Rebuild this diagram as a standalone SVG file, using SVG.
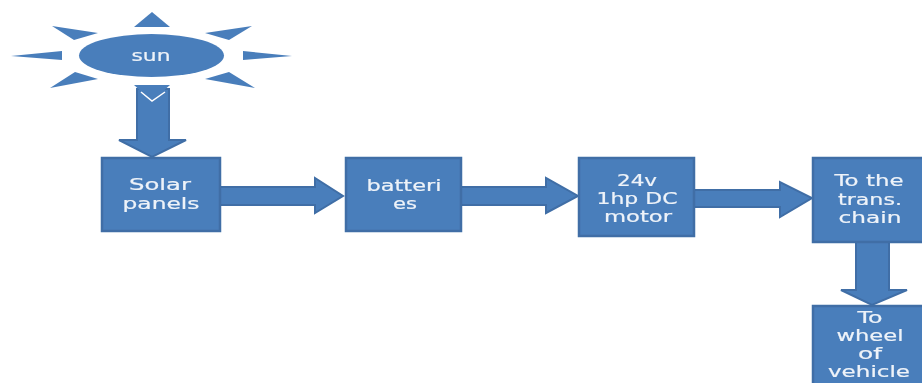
<svg xmlns="http://www.w3.org/2000/svg" width="922" height="383" viewBox="0 0 922 383">
<style>
.b{fill:#4a7ebb;stroke:#3f6ea6;stroke-width:2.5}
.a{fill:#4a7ebb;stroke:#3f6ea6;stroke-width:2}
.r{fill:#4a7ebb}
text{font-family:"DejaVu Sans","Liberation Sans",sans-serif;font-size:15.300px;fill:#eef3f9;stroke:#eef3f9;stroke-width:.2;text-anchor:middle}
</style>
<defs><filter id="s" x="-2%" y="-2%" width="104%" height="104%"><feGaussianBlur stdDeviation="0.6"/></filter></defs>
<rect width="922" height="383" fill="#fff"/>
<g filter="url(#s)">
<g id="connectors">
<path class="a" d="M137 89H169V140H186L152 157L119 140H137Z"/>
<path class="a" d="M220 187H315V178L343 196L315 213V205H220Z"/>
<path class="a" d="M461 187H546V178L578 196L546 213V205H461Z"/>
<path class="a" d="M694 190H780V182L812 198L780 217V207H694Z"/>
<path class="a" d="M856 242H889V290H907L872 305L841 290H856Z"/>
</g>
<g id="sun">
<ellipse class="r" cx="151.500" cy="55.500" rx="72.500" ry="21.500"/>
<path class="r" d="M134 27L152 12L170 27Z"/>
<path class="r" d="M11 56L62 51V60Z"/>
<path class="r" d="M292 56L243 51V60Z"/>
<path class="r" d="M52 26L98 33L74 40Z"/>
<path class="r" d="M252 26L205 33L229 40Z"/>
<path class="r" d="M50 88L75 72L98 79Z"/>
<path class="r" d="M255 88L229 72L205 79Z"/>
<path class="r" d="M134 85H170L152 101Z"/>
<path fill="none" stroke="#fff" stroke-width="1.500" d="M141 92L152 101L165 92"/>
<text x="151" y="61" textLength="39" lengthAdjust="spacingAndGlyphs">sun</text>
</g>
<g id="solar"><rect class="b" x="102" y="158" width="118" height="73"/>
<text x="160" y="190" textLength="62" lengthAdjust="spacingAndGlyphs">Solar</text><text x="161" y="208.500" textLength="77" lengthAdjust="spacingAndGlyphs">panels</text></g>
<g id="batteries"><rect class="b" x="346" y="158" width="115" height="73"/>
<text x="404" y="191" textLength="75" lengthAdjust="spacingAndGlyphs">batteri</text><text x="405" y="209" textLength="24" lengthAdjust="spacingAndGlyphs">es</text></g>
<g id="motor"><rect class="b" x="579" y="158" width="115" height="78"/>
<text x="637" y="186" textLength="40" lengthAdjust="spacingAndGlyphs">24v</text><text x="637" y="204" textLength="81" lengthAdjust="spacingAndGlyphs">1hp DC</text><text x="638" y="222" textLength="68" lengthAdjust="spacingAndGlyphs">motor</text></g>
<g id="chain"><rect class="b" x="813" y="158" width="111" height="84"/>
<text x="869" y="186" textLength="69" lengthAdjust="spacingAndGlyphs">To the</text><text x="870" y="204.500" textLength="64" lengthAdjust="spacingAndGlyphs">trans.</text><text x="870" y="223" textLength="63" lengthAdjust="spacingAndGlyphs">chain</text></g>
<g id="wheel"><rect class="b" x="813" y="306" width="111" height="79"/>
<text x="870" y="323" textLength="25" lengthAdjust="spacingAndGlyphs">To</text><text x="870" y="341" textLength="67" lengthAdjust="spacingAndGlyphs">wheel</text><text x="870" y="359" textLength="24" lengthAdjust="spacingAndGlyphs">of</text><text x="869" y="377" textLength="82" lengthAdjust="spacingAndGlyphs">vehicle</text></g>
</g>
</svg>
